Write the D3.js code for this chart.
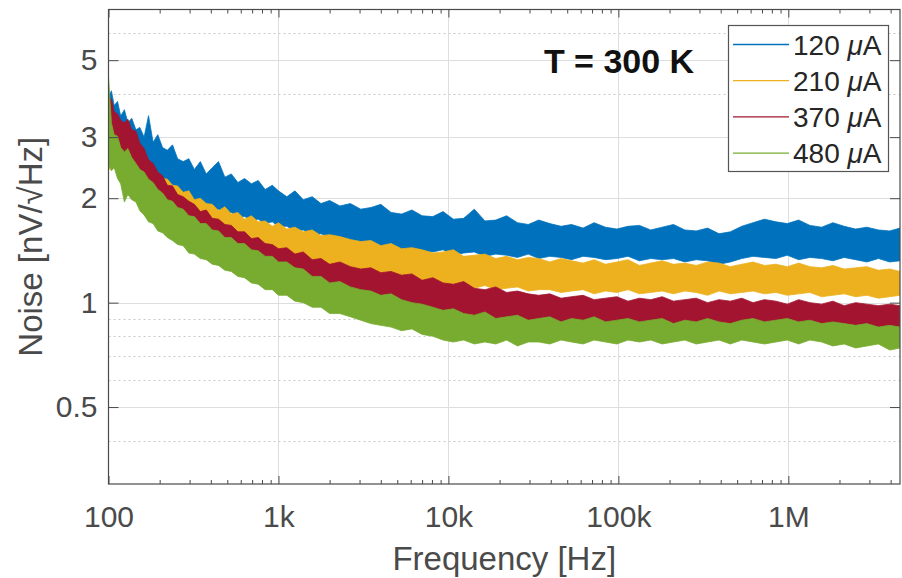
<!DOCTYPE html>
<html>
<head>
  <meta charset="utf-8">
  <script src="https://d3js.org/d3.v7.min.js"></script>
  <style>
    body { margin: 0; background: #fff; }
    svg text { font-family: "Liberation Sans", Arial, sans-serif; }
  </style>
</head>
<body>
<script>
// frequency grid (Hz) the bands were read at
var freq = [
  100,104,108,113,118,124,130,137,145,153,
  162,172,183,195,208,222,238,255,275,297,
  320,347,376,408,444,484,528,577,632,693,
  760,835,920,1000,1120,1250,1400,1580,1780,2000,
  2300,2650,3050,3500,4000,4600,5300,6100,7000,8100,
  9300,10700,12300,14200,16400,19000,22000,25500,29500,34000,
  39500,46000,53000,62000,72000,84000,98000,114000,133000,155000,
  181000,211000,246000,287000,335000,391000,456000,532000,620000,724000,
  845000,986000,1150000,1340000,1570000,1830000,2130000,2490000,2900000,3390000,
  3950000,4540000
];

// upper / lower edge of each noise trace, nV/sqrt(Hz)
var hi120 = [
  3.90,4.08,3.70,3.80,3.45,3.60,3.30,3.40,3.15,3.20,
  3.00,3.46,2.90,3.05,2.80,2.75,2.85,2.60,2.55,2.60,
  2.42,2.55,2.35,2.45,2.55,2.30,2.35,2.22,2.28,2.20,
  2.25,2.12,2.18,2.10,2.02,2.10,1.98,2.02,1.93,1.97,
  1.90,1.93,1.86,1.88,1.92,1.82,1.80,1.85,1.78,1.77,
  1.83,1.74,1.75,1.86,1.72,1.73,1.78,1.70,1.68,1.73,
  1.69,1.66,1.68,1.64,1.70,1.65,1.63,1.66,1.67,1.62,
  1.65,1.68,1.62,1.61,1.64,1.58,1.60,1.66,1.70,1.74,
  1.71,1.69,1.73,1.67,1.65,1.70,1.66,1.63,1.65,1.62,
  1.61,1.64
];
var lo120 = [
  3.00,3.20,3.30,3.00,2.95,2.75,2.80,2.65,2.60,2.62,
  2.48,2.55,2.38,2.36,2.28,2.20,2.16,2.08,2.06,1.98,
  1.98,1.90,1.91,1.85,1.86,1.80,1.82,1.76,1.77,1.73,
  1.74,1.69,1.71,1.66,1.66,1.61,1.62,1.56,1.58,1.54,
  1.52,1.50,1.47,1.49,1.45,1.46,1.42,1.44,1.41,1.40,
  1.42,1.37,1.39,1.40,1.36,1.38,1.37,1.35,1.38,1.34,
  1.36,1.35,1.33,1.36,1.35,1.33,1.34,1.36,1.32,1.34,
  1.33,1.34,1.31,1.33,1.32,1.29,1.31,1.34,1.36,1.35,
  1.34,1.37,1.33,1.35,1.34,1.32,1.35,1.33,1.31,1.34,
  1.31,1.32
];
var hi210 = [
  3.10,3.30,3.46,3.15,3.25,3.05,3.00,3.05,2.78,2.80,
  2.58,2.52,2.42,2.38,2.28,2.27,2.18,2.17,2.08,2.10,
  1.98,2.00,1.93,1.92,1.84,1.89,1.80,1.82,1.74,1.78,
  1.71,1.72,1.66,1.70,1.63,1.65,1.60,1.62,1.56,1.57,
  1.55,1.52,1.50,1.51,1.46,1.48,1.43,1.44,1.42,1.39,
  1.40,1.42,1.36,1.37,1.38,1.34,1.36,1.33,1.35,1.34,
  1.31,1.34,1.32,1.30,1.33,1.29,1.31,1.33,1.28,1.30,
  1.32,1.29,1.30,1.28,1.31,1.30,1.27,1.29,1.31,1.28,
  1.29,1.27,1.30,1.27,1.26,1.28,1.25,1.26,1.27,1.24,
  1.25,1.23
];
var lo210 = [
  2.40,2.50,2.60,2.42,2.40,2.30,2.42,2.28,2.22,2.12,
  2.12,2.02,2.02,1.93,1.90,1.83,1.82,1.73,1.74,1.68,
  1.66,1.60,1.61,1.56,1.56,1.51,1.51,1.46,1.47,1.43,
  1.43,1.39,1.39,1.36,1.36,1.32,1.31,1.29,1.28,1.26,
  1.25,1.24,1.22,1.20,1.21,1.18,1.16,1.17,1.14,1.14,
  1.12,1.13,1.11,1.10,1.12,1.09,1.10,1.11,1.08,1.09,
  1.09,1.07,1.08,1.09,1.06,1.08,1.07,1.09,1.06,1.07,
  1.08,1.06,1.08,1.07,1.05,1.08,1.06,1.07,1.08,1.06,
  1.07,1.05,1.06,1.07,1.04,1.05,1.06,1.04,1.05,1.03,
  1.04,1.05
];
var hi370 = [
  3.70,3.87,3.55,3.50,3.35,3.30,3.38,3.15,3.12,2.88,
  2.78,2.58,2.52,2.38,2.32,2.18,2.17,2.05,2.02,1.96,
  1.92,1.83,1.85,1.75,1.74,1.68,1.67,1.60,1.60,1.53,
  1.54,1.48,1.47,1.43,1.44,1.38,1.40,1.33,1.34,1.29,
  1.31,1.27,1.25,1.26,1.22,1.23,1.20,1.21,1.16,1.18,
  1.14,1.13,1.15,1.10,1.09,1.11,1.07,1.08,1.06,1.05,
  1.06,1.03,1.04,1.05,1.02,1.03,1.04,1.01,1.03,1.02,
  1.04,1.01,1.02,1.03,1.00,1.02,1.01,1.03,1.00,1.02,
  1.01,0.99,1.02,1.00,0.99,1.01,0.98,1.00,0.99,0.98,
  0.99,0.98
];
var lo370 = [
  2.80,2.92,3.00,2.82,2.72,2.58,2.52,2.43,2.40,2.28,
  2.22,2.08,2.02,1.93,1.86,1.78,1.76,1.68,1.66,1.59,
  1.58,1.51,1.51,1.45,1.44,1.39,1.38,1.33,1.32,1.27,
  1.26,1.21,1.21,1.16,1.16,1.11,1.11,1.07,1.08,1.04,
  1.04,1.02,1.01,0.99,1.00,0.97,0.95,0.96,0.93,0.94,
  0.91,0.92,0.90,0.89,0.91,0.88,0.89,0.87,0.88,0.88,
  0.87,0.88,0.86,0.88,0.87,0.86,0.88,0.87,0.86,0.88,
  0.87,0.86,0.87,0.85,0.87,0.86,0.86,0.88,0.85,0.86,
  0.86,0.84,0.86,0.85,0.85,0.84,0.85,0.83,0.84,0.84,
  0.83,0.84
];
var hi480 = [
  4.48,3.30,3.05,3.02,2.80,2.72,2.78,2.62,2.52,2.42,
  2.38,2.27,2.22,2.12,2.07,1.98,1.96,1.88,1.86,1.78,
  1.77,1.69,1.69,1.62,1.61,1.54,1.54,1.48,1.48,1.42,
  1.41,1.36,1.36,1.31,1.31,1.26,1.25,1.19,1.19,1.14,
  1.15,1.11,1.09,1.08,1.05,1.06,1.02,1.00,0.99,0.97,
  0.95,0.96,0.93,0.92,0.94,0.90,0.91,0.92,0.89,0.90,
  0.91,0.88,0.90,0.89,0.91,0.88,0.89,0.90,0.88,0.89,
  0.90,0.87,0.89,0.88,0.90,0.88,0.87,0.89,0.90,0.88,
  0.89,0.90,0.88,0.89,0.87,0.88,0.87,0.86,0.87,0.85,
  0.86,0.85
];
var lo480 = [
  2.50,2.40,2.45,2.28,2.20,1.95,2.05,1.98,1.95,1.84,
  1.79,1.71,1.69,1.61,1.59,1.54,1.51,1.47,1.46,1.39,
  1.38,1.34,1.33,1.29,1.28,1.24,1.23,1.19,1.18,1.14,
  1.13,1.09,1.09,1.05,1.05,1.01,1.00,0.97,0.97,0.93,
  0.93,0.91,0.89,0.87,0.86,0.85,0.83,0.84,0.81,0.80,
  0.78,0.77,0.78,0.76,0.77,0.76,0.78,0.75,0.77,0.77,
  0.76,0.78,0.77,0.76,0.78,0.77,0.76,0.78,0.77,0.78,
  0.76,0.77,0.78,0.76,0.77,0.78,0.76,0.78,0.77,0.76,
  0.77,0.78,0.76,0.78,0.77,0.75,0.76,0.74,0.75,0.76,
  0.73,0.74
];

var seriesNames = ["120", "210", "370", "480"];
var seriesColors = ["#0072BD", "#EDB120", "#A2142F", "#77AC30"];
var seriesHi = [hi120, hi210, hi370, hi480];
var seriesLo = [lo120, lo210, lo370, lo480];

// ticks
var xTicks = [100, 1000, 10000, 100000, 1000000];
var xTickLabels = ["100", "1k", "10k", "100k", "1M"];
var yTicks = [0.5, 1, 2, 3, 5];
var yTickLabels = ["0.5", "1", "2", "3", "5"];
var yMinorTicks = [0.4, 0.6, 0.7, 0.8, 0.9, 4, 6];

var width = 902, height = 578;
// plot box (note: "top" is taken by window.top, so use pLeft etc.)
var pLeft = 108.5, pRight = 900, pTop = 9.5, pBottom = 484;
var axisColor = "#4a4a4a", gridColor = "#dedede";

var svg = d3.select("body").append("svg")
    .attr("width", width)
    .attr("height", height);

var x = d3.scaleLog().domain([100, 4.54e6]).range([pLeft, pRight]);
var y = d3.scaleLog().domain([0.3, 7]).range([pBottom, pTop]);

// grid lines
var grid = svg.append("g");
grid.selectAll("line.ymin").data(yMinorTicks).enter().append("line")
    .attr("x1", pLeft).attr("x2", pRight)
    .attr("y1", function (d) { return Math.round(y(d)) + 0.5; })
    .attr("y2", function (d) { return Math.round(y(d)) + 0.5; })
    .style("stroke", "#c8c8c8")
    .style("stroke-dasharray", "2,3");
grid.selectAll("line.ymaj").data(yTicks).enter().append("line")
    .attr("x1", pLeft).attr("x2", pRight)
    .attr("y1", function (d) { return Math.round(y(d)) + 0.5; })
    .attr("y2", function (d) { return Math.round(y(d)) + 0.5; })
    .style("stroke", gridColor);
grid.selectAll("line.xmaj").data(xTicks.slice(1)).enter().append("line")
    .attr("y1", pTop).attr("y2", pBottom)
    .attr("x1", function (d) { return Math.round(x(d)) + 0.5; })
    .attr("x2", function (d) { return Math.round(x(d)) + 0.5; })
    .style("stroke", gridColor);

// noise traces as filled bands between the read edges
svg.append("clipPath").attr("id", "clip")
  .append("rect").attr("x", pLeft).attr("y", pTop)
    .attr("width", pRight - pLeft).attr("height", pBottom - pTop);

var band = d3.area()
    .x(function (d) { return x(d.f); })
    .y0(function (d) { return y(d.lo); })
    .y1(function (d) { return y(d.hi); });

var traces = svg.append("g").attr("clip-path", "url(#clip)");
seriesNames.forEach(function (name, s) {
  var pts = freq.map(function (f, i) {
    return { f: f, hi: seriesHi[s][i], lo: seriesLo[s][i] };
  });
  traces.append("path")
      .datum(pts)
      .attr("d", band)
      .style("fill", seriesColors[s])
      .style("stroke", seriesColors[s])
      .style("stroke-width", 0.8)
      .style("stroke-linejoin", "miter");
});

// axes: ticks point inward like the original
var minorX = x.ticks().filter(function (d) {
  return xTicks.indexOf(d) < 0 && d <= 4.54e6;
});

svg.append("g")
    .attr("transform", "translate(0," + pBottom + ")")
    .call(d3.axisBottom(x).tickValues(minorX).tickSizeInner(-4).tickSizeOuter(0).tickFormat(""));
svg.append("g")
    .attr("transform", "translate(0," + pTop + ")")
    .call(d3.axisTop(x).tickValues(minorX).tickSizeInner(-4).tickSizeOuter(0).tickFormat(""));

svg.append("g")
    .attr("transform", "translate(0," + pBottom + ")")
    .call(d3.axisBottom(x).tickValues(xTicks).tickSizeInner(-8).tickSizeOuter(0)
      .tickPadding(22)
      .tickFormat(function (d, i) { return xTickLabels[i]; }));
svg.append("g")
    .attr("transform", "translate(0," + pTop + ")")
    .call(d3.axisTop(x).tickValues(xTicks).tickSizeInner(-8).tickSizeOuter(0).tickFormat(""));

svg.append("g")
    .attr("transform", "translate(" + pLeft + ",0)")
    .call(d3.axisLeft(y).tickValues(yTicks).tickSizeInner(-10).tickSizeOuter(0)
      .tickPadding(11)
      .tickFormat(function (d, i) { return yTickLabels[i]; }));
svg.append("g")
    .attr("transform", "translate(" + pRight + ",0)")
    .call(d3.axisRight(y).tickValues(yTicks).tickSizeInner(-10).tickSizeOuter(0).tickFormat(""));

svg.selectAll(".domain").remove();
svg.selectAll(".tick line").style("stroke", axisColor);
svg.selectAll(".tick text")
    .style("font-size", "30px")
    .style("fill", axisColor);

// box around the plot
svg.append("rect")
    .attr("x", pLeft).attr("y", pTop)
    .attr("width", pRight - pLeft).attr("height", pBottom - pTop)
    .style("fill", "none")
    .style("stroke", axisColor)
    .style("stroke-width", 1.2);

// axis titles
svg.append("text")
    .attr("x", (pLeft + pRight) / 2)
    .attr("y", 570)
    .attr("text-anchor", "middle")
    .style("font-size", "33px")
    .style("fill", axisColor)
    .text("Frequency [Hz]");

svg.append("text")
    .attr("transform", "translate(42," + (pTop + pBottom) / 2 + ") rotate(-90)")
    .attr("text-anchor", "middle")
    .style("font-size", "33px")
    .style("fill", axisColor)
    .text("Noise [nV/\u221AHz]");

// temperature note
svg.append("text")
    .attr("x", 619)
    .attr("y", 73)
    .attr("text-anchor", "middle")
    .style("font-size", "34px")
    .style("font-weight", "bold")
    .style("fill", "#111")
    .text("T = 300 K");

// legend
var legend = svg.append("g");
legend.append("rect")
    .attr("x", 728.5).attr("y", 25.5)
    .attr("width", 160).attr("height", 146)
    .style("fill", "#fff")
    .style("stroke", "#555")
    .style("stroke-width", 1.2);

var rows = legend.selectAll("g.row").data(seriesNames).enter().append("g")
    .attr("transform", function (d, i) { return "translate(0," + (44.5 + i * 36.2) + ")"; });
rows.append("line")
    .attr("x1", 733).attr("x2", 789)
    .style("stroke", function (d, i) { return seriesColors[i]; })
    .style("stroke-width", 1.3);
var label = rows.append("text")
    .attr("x", 793)
    .attr("y", 10)
    .style("font-size", "28px")
    .style("fill", "#262626");
label.append("tspan").text(function (d) { return d + " "; });
label.append("tspan").style("font-style", "italic").text("\u03BC");
label.append("tspan").text("A");
</script>
</body>
</html>
